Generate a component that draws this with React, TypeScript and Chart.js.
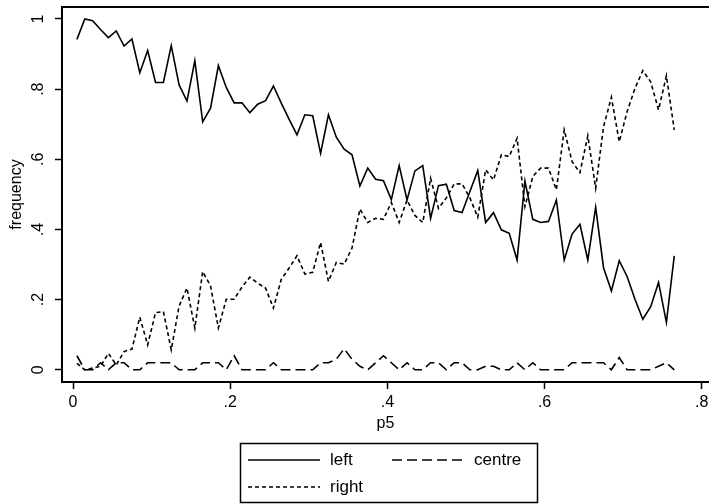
import React, { useEffect, useRef } from 'react';
import { Chart, registerables } from 'chart.js';
Chart.register(...registerables);

const p5 = [
  0.005, 0.015, 0.025, 0.035, 0.045, 0.055, 0.065, 0.075, 0.085, 0.095,
  0.105, 0.115, 0.125, 0.135, 0.145, 0.155, 0.165, 0.175, 0.185, 0.195,
  0.205, 0.215, 0.225, 0.235, 0.245, 0.255, 0.265, 0.275, 0.285, 0.295,
  0.305, 0.315, 0.325, 0.335, 0.345, 0.355, 0.365, 0.375, 0.385, 0.395,
  0.405, 0.415, 0.425, 0.435, 0.445, 0.455, 0.465, 0.475, 0.485, 0.495,
  0.505, 0.515, 0.525, 0.535, 0.545, 0.555, 0.565, 0.575, 0.585, 0.595,
  0.605, 0.615, 0.625, 0.635, 0.645, 0.655, 0.665, 0.675, 0.685, 0.695,
  0.705, 0.715, 0.725, 0.735, 0.745, 0.755, 0.765,
];

const leftShare = [
  0.942, 1.0, 0.995, 0.97, 0.947, 0.966, 0.923, 0.943, 0.847, 0.91,
  0.819, 0.819, 0.924, 0.812, 0.766, 0.881, 0.707, 0.746, 0.867, 0.805,
  0.761, 0.761, 0.733, 0.757, 0.767, 0.809, 0.76, 0.714, 0.67, 0.727,
  0.724, 0.617, 0.727, 0.663, 0.629, 0.613, 0.524, 0.575, 0.543, 0.539,
  0.485, 0.582, 0.484, 0.567, 0.582, 0.432, 0.525, 0.529, 0.454, 0.448,
  0.508, 0.568, 0.42, 0.448, 0.399, 0.389, 0.313, 0.538, 0.429, 0.42,
  0.423, 0.484, 0.313, 0.387, 0.415, 0.313, 0.463, 0.291, 0.225, 0.311,
  0.266, 0.201, 0.144, 0.18, 0.249, 0.135, 0.325,
];

const centreShare = [
  0.04, 0, 0, 0.02, 0, 0.02, 0.02, 0, 0, 0.02,
  0.02, 0.02, 0.02, 0, 0, 0, 0.02, 0.02, 0.02, 0,
  0.04, 0, 0, 0, 0, 0.02, 0, 0, 0, 0,
  0, 0.02, 0.02, 0.03, 0.06, 0.03, 0.01, 0, 0.02, 0.04,
  0.02, 0, 0.02, 0, 0, 0.02, 0.02, 0, 0.02, 0.02,
  0, 0, 0.01, 0.01, 0, 0, 0.02, 0, 0.02, 0,
  0, 0, 0, 0.02, 0.02, 0.02, 0.02, 0.02, 0, 0.035,
  0, 0, 0, 0, 0.01, 0.02, 0,
];

const rightShare = [
  0.018, 0, 0.005, 0.01, 0.047, 0.014, 0.052, 0.059, 0.15, 0.071,
  0.163, 0.166, 0.057, 0.182, 0.233, 0.119, 0.28, 0.239, 0.119, 0.201,
  0.201, 0.236, 0.264, 0.247, 0.233, 0.176, 0.258, 0.29, 0.325, 0.273,
  0.278, 0.363, 0.252, 0.306, 0.301, 0.347, 0.458, 0.42, 0.432, 0.429,
  0.477, 0.42, 0.484, 0.44, 0.42, 0.546, 0.46, 0.49, 0.53, 0.53,
  0.49, 0.435, 0.57, 0.541, 0.613, 0.608, 0.66, 0.465, 0.551, 0.575,
  0.575, 0.513, 0.684, 0.593, 0.562, 0.667, 0.518, 0.693, 0.777, 0.65,
  0.736, 0.802, 0.853, 0.821, 0.741, 0.838, 0.684,
];

const seriesNames = ['left', 'centre', 'right'];
const xTickValues = [0, 0.2, 0.4, 0.6, 0.8];
const xTickLabels = ['0', '.2', '.4', '.6', '.8'];
const yTickValues = [0, 0.2, 0.4, 0.6, 0.8, 1];
const yTickLabels = ['0', '.2', '.4', '.6', '.8', '1'];
const xTitle = 'p5';
const yTitle = 'frequency';

const FONT = "'Liberation Sans', Arial, sans-serif";

const frameTop = {
  id: 'frameTop',
  afterDraw(chart: any) {
    const { ctx, chartArea } = chart;
    ctx.save();
    ctx.strokeStyle = '#000';
    ctx.lineWidth = 2;
    ctx.beginPath();
    ctx.moveTo(chartArea.left, chartArea.top);
    ctx.lineTo(chart.width, chartArea.top);
    ctx.stroke();
    ctx.restore();
  },
};

const legendBox = {
  id: 'legendBox',
  afterDraw(chart: any) {
    const ctx = chart.ctx;
    ctx.save();
    ctx.strokeStyle = '#000';
    ctx.lineWidth = 1.5;
    ctx.setLineDash([]);
    ctx.strokeRect(240.5, 443.5, 297, 59);
    const items = [
      { ds: 0, x: 248, y: 460 },
      { ds: 1, x: 392, y: 460 },
      { ds: 2, x: 248, y: 487 },
    ];
    ctx.font = `17px ${FONT}`;
    ctx.fillStyle = '#000';
    ctx.textBaseline = 'middle';
    ctx.textAlign = 'left';
    items.forEach((it) => {
      const ds = chart.data.datasets[it.ds];
      ctx.save();
      ctx.lineWidth = ds.borderWidth;
      ctx.setLineDash(ds.borderDash || []);
      ctx.beginPath();
      ctx.moveTo(it.x, it.y);
      ctx.lineTo(it.x + 72, it.y);
      ctx.stroke();
      ctx.restore();
      ctx.fillText(ds.label, it.x + 82, it.y);
    });
    ctx.restore();
  },
};

export default function App() {
  const ref = useRef<HTMLCanvasElement | null>(null);
  useEffect(() => {
    document.body.style.margin = '0';
    const canvas = ref.current;
    if (!canvas) return;
    const mk = (vals: number[]) => p5.map((x, i) => ({ x, y: vals[i] }));
    const chart = new Chart(canvas, {
      type: 'line',
      data: {
        datasets: [
          { label: seriesNames[0], data: mk(leftShare), borderColor: '#000', borderWidth: 1.6, pointRadius: 0, fill: false, tension: 0 },
          { label: seriesNames[1], data: mk(centreShare), borderColor: '#000', borderWidth: 1.6, borderDash: [10, 5], pointRadius: 0, fill: false, tension: 0 },
          { label: seriesNames[2], data: mk(rightShare), borderColor: '#000', borderWidth: 1.6, borderDash: [4, 3], pointRadius: 0, fill: false, tension: 0 },
        ],
      },
      options: {
        responsive: false,
        animation: false,
        events: [],
        layout: { autoPadding: false, padding: { top: 7, right: 0, bottom: 64, left: 0 } },
        plugins: { legend: { display: false }, tooltip: { enabled: false } },
        scales: {
          x: {
            type: 'linear',
            min: -0.014,
            max: 0.8092,
            afterFit: (s: any) => { s.height = 58; s.paddingLeft = 0; s.paddingRight = 0; },
            afterBuildTicks: (s: any) => { s.ticks = xTickValues.map((v) => ({ value: v })); },
            ticks: {
              autoSkip: false,
              maxRotation: 0,
              padding: 4,
              color: '#000',
              font: { family: FONT, size: 16 },
              callback: (v: any) => xTickLabels[xTickValues.indexOf(Number(v))] ?? '',
            },
            grid: { drawOnChartArea: false, drawTicks: true, tickLength: 7, tickWidth: 1.5, tickColor: '#000' },
            border: { display: true, color: '#000', width: 2 },
            title: { display: true, text: xTitle, color: '#000', font: { family: FONT, size: 16 }, padding: { top: 0, bottom: 7 } },
          },
          y: {
            type: 'linear',
            min: -0.0348,
            max: 1.0342,
            afterFit: (s: any) => { s.width = 62; s.paddingTop = 0; s.paddingBottom = 0; },
            afterBuildTicks: (s: any) => { s.ticks = yTickValues.map((v) => ({ value: v })); },
            ticks: {
              autoSkip: false,
              minRotation: 90,
              maxRotation: 90,
              crossAlign: 'center',
              padding: 10,
              color: '#000',
              font: { family: FONT, size: 16 },
              callback: (v: any) => yTickLabels[yTickValues.indexOf(Number(v))] ?? '',
            },
            grid: { drawOnChartArea: false, drawTicks: true, tickLength: 7, tickWidth: 1.5, tickColor: '#000' },
            border: { display: true, color: '#000', width: 2 },
            title: { display: true, text: yTitle, color: '#000', font: { family: FONT, size: 16 }, padding: { top: 7, bottom: 0 } },
          },
        },
      },
      plugins: [frameTop, legendBox],
    } as any);
    return () => chart.destroy();
  }, []);
  return (
    <canvas ref={ref} width={709} height={504} style={{ display: 'block', width: 709, height: 504 }} />
  );
}
